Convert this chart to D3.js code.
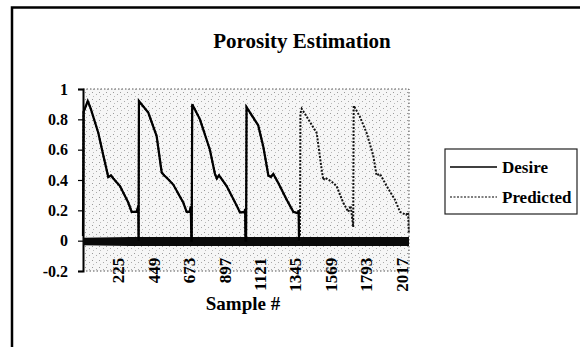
<!DOCTYPE html>
<html>
<head>
<meta charset="utf-8">
<script src="https://cdn.jsdelivr.net/npm/d3@7"></script>
<style>
  body { margin: 0; background: #fff; }
  text { font-family: "Liberation Serif", "Times New Roman", serif; font-weight: bold; fill: #000; }
</style>
</head>
<body>
<div id="chart"></div>
<script>
// values
const desireSample = [1, 5, 31, 50, 98, 130, 161, 178, 193, 235, 288, 309, 341, 351, 353,
  355, 414, 467, 499, 515, 531, 572, 636, 657, 676, 683, 687,
  689, 692, 741, 804, 836, 848, 862, 910, 974, 995, 1024, 1027, 1029,
  1033, 1036, 1110, 1142, 1174, 1190, 1205, 1237, 1290, 1332, 1362, 1366, 1368];
const desireValue = [0.03, 0.85, 0.92, 0.87, 0.71, 0.56, 0.42, 0.43, 0.41, 0.36, 0.25, 0.19, 0.19, 0.23, 0.00,
  0.92, 0.845, 0.69, 0.45, 0.43, 0.415, 0.37, 0.25, 0.19, 0.19, 0.225, 0.00,
  0.00, 0.90, 0.80, 0.60, 0.44, 0.41, 0.43, 0.36, 0.23, 0.185, 0.19, 0.21, 0.00,
  0.00, 0.88, 0.76, 0.62, 0.43, 0.42, 0.44, 0.38, 0.27, 0.19, 0.18, 0.20, 0.00];

const predictedSample = [1, 5, 31, 50, 98, 130, 161, 178, 193, 235, 288, 309, 341, 351, 353,
  355, 414, 467, 499, 515, 531, 572, 636, 657, 676, 683, 687,
  689, 692, 741, 804, 836, 848, 862, 910, 974, 995, 1024, 1027, 1029,
  1033, 1036, 1110, 1142, 1174, 1190, 1205, 1237, 1290, 1332, 1362, 1366, 1368,
  1374, 1377, 1385, 1427, 1480, 1511, 1522, 1532, 1574, 1606, 1648, 1680, 1695, 1711,
  1714, 1752, 1796, 1838, 1859, 1880, 1923, 1975, 2007, 2045, 2059, 2063];
const predictedValue = [0.03, 0.85, 0.92, 0.87, 0.71, 0.56, 0.42, 0.43, 0.41, 0.36, 0.25, 0.19, 0.19, 0.23, 0.00,
  0.92, 0.845, 0.69, 0.45, 0.43, 0.415, 0.37, 0.25, 0.19, 0.19, 0.225, 0.00,
  0.00, 0.90, 0.80, 0.60, 0.44, 0.41, 0.43, 0.36, 0.23, 0.185, 0.19, 0.21, 0.00,
  0.00, 0.88, 0.76, 0.62, 0.43, 0.42, 0.44, 0.38, 0.27, 0.19, 0.18, 0.20, 0.00,
  0.00, 0.84, 0.87, 0.80, 0.71, 0.47, 0.40, 0.415, 0.39, 0.36, 0.25, 0.19, 0.23, 0.09,
  0.89, 0.82, 0.71, 0.56, 0.43, 0.44, 0.36, 0.27, 0.19, 0.17, 0.185, 0.05];

// dark band of small values hugging zero
const bandSample = [1, 300, 2064];
const bandHi = [0.02, 0.025, 0.025];
const bandLo = [-0.03, -0.035, -0.035];

const xTicks = [225, 449, 673, 897, 1121, 1345, 1569, 1793, 2017];
const yTicks = [-0.2, 0, 0.2, 0.4, 0.6, 0.8, 1];
const seriesNames = ["Desire", "Predicted"];

// layout
const W = 580, H = 347;
const plot = { left: 83, right: 409, top: 89, bottom: 271 };

const svg = d3.select("#chart").append("svg")
  .attr("width", W)
  .attr("height", H);

// stipple for the grey plot area
const pat = svg.append("defs").append("pattern")
  .attr("id", "stip")
  .attr("width", 7).attr("height", 7)
  .attr("patternUnits", "userSpaceOnUse");
pat.append("rect").attr("width", 7).attr("height", 7).attr("fill", "#f6f6f6");
pat.append("rect").attr("x", 1).attr("y", 1).attr("width", 1).attr("height", 1).attr("fill", "#999");
pat.append("rect").attr("x", 5).attr("y", 3).attr("width", 1).attr("height", 1).attr("fill", "#aaa");
pat.append("rect").attr("x", 2).attr("y", 5).attr("width", 1).attr("height", 1).attr("fill", "#bbb");

// outer chart frame
svg.append("path")
  .attr("d", `M12,${H + 2} V7.5 H${W + 2}`)
  .attr("fill", "none")
  .attr("stroke", "#000")
  .attr("stroke-width", 2.5);

svg.append("text")
  .attr("x", 302).attr("y", 48)
  .attr("text-anchor", "middle")
  .style("font-size", "21px")
  .text("Porosity Estimation");

var x = d3.scaleLinear()
  .domain([1, 2064])
  .range([plot.left, plot.right]);

var y = d3.scaleLinear()
  .domain([-0.2, 1])
  .range([plot.bottom, plot.top]);

// plot area
svg.append("rect")
  .attr("x", plot.left).attr("y", plot.top)
  .attr("width", plot.right - plot.left)
  .attr("height", plot.bottom - plot.top)
  .attr("fill", "url(#stip)");

svg.append("path")
  .attr("d", `M${plot.left},${plot.top} H${plot.right} V${plot.bottom} H${plot.left}`)
  .attr("fill", "none")
  .attr("stroke", "#555")
  .attr("stroke-width", 1)
  .attr("stroke-dasharray", "1.5,2");

// Y axis
const yAxis = svg.append("g")
  .attr("transform", `translate(${plot.left},0)`)
  .call(d3.axisLeft(y).tickValues(yTicks).tickSize(5).tickPadding(10)
    .tickFormat(d => String(d)));
yAxis.select(".domain").attr("stroke", "#000").attr("stroke-width", 2);
yAxis.selectAll(".tick line").attr("stroke", "#000").attr("stroke-width", 1.2);
yAxis.selectAll("text")
  .style("font-size", "16px")
  .style("font-family", '"Liberation Serif", serif')
  .style("font-weight", "bold")
  .attr("fill", "#000");

// zero band
const bandData = bandSample.map((s, i) => ({ s: s, hi: bandHi[i], lo: bandLo[i] }));
svg.append("path")
  .datum(bandData)
  .attr("fill", "#0a0a0a")
  .attr("d", d3.area()
    .x(d => x(d.s))
    .y0(d => y(d.lo))
    .y1(d => y(d.hi)));

// series
const predData = predictedSample.map((s, i) => ({ s: s, v: predictedValue[i] }));
const desData = desireSample.map((s, i) => ({ s: s, v: desireValue[i] }));
const line = d3.line().x(d => x(d.s)).y(d => y(d.v));

svg.append("path")
  .datum(predData)
  .attr("fill", "none")
  .attr("stroke", "#111")
  .attr("stroke-width", 2)
  .attr("stroke-dasharray", "2,1.5")
  .attr("d", line);

svg.append("path")
  .datum(desData)
  .attr("fill", "none")
  .attr("stroke", "#000")
  .attr("stroke-width", 2.2)
  .attr("d", line);

// X tick labels (rotated), placed under the zero line
svg.append("g")
  .selectAll("text")
  .data(xTicks)
  .join("text")
  .attr("transform", d => `translate(${x(d)},${y(0) + 17}) rotate(-90)`)
  .attr("dy", "0.35em")
  .attr("text-anchor", "end")
  .style("font-size", "17px")
  .text(d => d);

svg.append("text")
  .attr("x", 243).attr("y", 310)
  .attr("text-anchor", "middle")
  .style("font-size", "19px")
  .text("Sample #");

// legend
const lg = svg.append("g");
lg.append("rect")
  .attr("x", 445).attr("y", 149)
  .attr("width", 132).attr("height", 65)
  .attr("fill", "#fff")
  .attr("stroke", "#222")
  .attr("stroke-width", 1.2);

seriesNames.forEach((name, i) => {
  const ly = 167 + i * 30;
  lg.append("line")
    .attr("x1", 450).attr("x2", 497)
    .attr("y1", ly).attr("y2", ly)
    .attr("stroke", "#000")
    .attr("stroke-width", i === 0 ? 1.4 : 1.2)
    .attr("stroke-dasharray", i === 0 ? null : "2,1.5");
  lg.append("text")
    .attr("x", 502).attr("y", ly)
    .attr("dy", "0.35em")
    .style("font-size", "17px")
    .text(name);
});
</script>
</body>
</html>
